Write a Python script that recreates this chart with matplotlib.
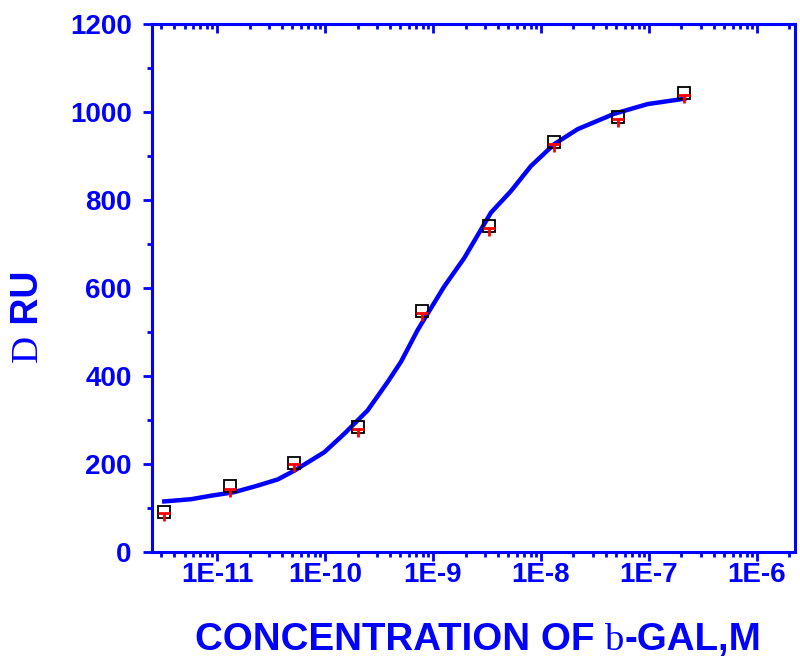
import numpy as np
import matplotlib
matplotlib.use("Agg")
import matplotlib.pyplot as plt
from matplotlib.ticker import MultipleLocator, FixedLocator, NullFormatter

plt.rcParams['font.family'] = ['Liberation Sans', 'DejaVu Sans']
plt.rcParams['font.weight'] = 'bold'

# measured binding response vs. concentration
conc = [3.25e-12, 1.32e-11, 5.2e-11, 2.01e-10, 7.9e-10, 3.28e-9, 1.31e-8, 5.13e-8, 2.09e-7]
resp = [91, 149, 202, 284, 549, 741, 933, 989, 1044]
resp_rep = [88, 143, 201, 280, 544, 737, 928, 984, 1040]

# fitted curve
fit_conc = [3.25e-12, 5.74e-12, 8.79e-12, 1.44e-11, 2.38e-11, 3.65e-11, 5.2e-11,
            9.86e-11, 1.51e-10, 2.48e-10, 3.81e-10, 5.06e-10, 7.21e-10, 1.27e-9,
            1.95e-9, 3.44e-9, 5.27e-9, 8.07e-9, 1.33e-8, 2.19e-8, 4.78e-8,
            9.73e-8, 2.12e-7]
fit_resp = [115, 120, 128, 136, 151, 165, 185, 227, 269, 322, 387, 433, 505,
            604, 669, 772, 821, 878, 928, 962, 997, 1019, 1031]

xticks = [1e-11, 1e-10, 1e-9, 1e-8, 1e-7, 1e-6]
xticklabels = ['1E-11', '1E-10', '1E-9', '1E-8', '1E-7', '1E-6']

blue = '#0000ff'
fig = plt.figure(figsize=(8, 6.62), dpi=100)
ax = fig.add_axes([0.19, 0.1662, 0.80375, 0.7968])

ax.plot(fit_conc, fit_resp, color=blue, lw=3.2, zorder=2)
ax.plot(conc, resp, ls='none', marker='s', ms=9, mfc='none', mec='black', mew=1.3, zorder=3)
ax.plot(conc, resp_rep, ls='none', marker='_', ms=9, mec='red', mew=2, zorder=4)
ax.plot(conc, resp_rep, ls='none', marker=3, ms=6, mec='red', mew=2, zorder=4)

ax.set_xscale('log')
ax.set_xlim(2.5e-12, 2.25e-6)
ax.set_ylim(0, 1200)
ax.xaxis.set_major_locator(FixedLocator(xticks))
ax.set_xticklabels(xticklabels)
ax.xaxis.set_minor_formatter(NullFormatter())
ax.yaxis.set_major_locator(MultipleLocator(200))
ax.yaxis.set_minor_locator(MultipleLocator(100))

for s in ax.spines.values():
    s.set_color(blue)
    s.set_linewidth(2.2)

ax.tick_params(axis='both', which='both', color=blue, labelcolor=blue,
               width=2, direction='out', right=False, top=False)
ax.tick_params(which='major', length=6.5, labelsize=20)
ax.tick_params(which='minor', length=3.5)
ax.tick_params(axis='x', pad=1)
ax.tick_params(axis='y', pad=8)

# inward ticks along the top edge
top = ax.secondary_xaxis('top')
top.set_xscale('log')
top.xaxis.set_major_locator(FixedLocator(xticks))
top.tick_params(which='both', direction='in', color=blue, width=2, labeltop=False)
top.tick_params(which='major', length=6.5)
top.tick_params(which='minor', length=3.5)
top.spines['top'].set_color(blue)
top.spines['top'].set_linewidth(2.2)

# axis titles, with the Greek letters set in a serif face
t1 = fig.text(195 / 800, 1 - 650 / 662, 'CONCENTRATION OF ', fontsize=27.7,
              fontweight='bold', color=blue, va='baseline')
t2 = ax.annotate('b', xy=(1, 0), xycoords=t1, fontsize=27.7, fontweight='normal',
                 family='Liberation Serif', color=blue, va='bottom', ha='left',
                 annotation_clip=False)
ax.annotate('-GAL,M', xy=(1, 0), xycoords=t2, fontsize=27.7, fontweight='bold',
            color=blue, va='bottom', ha='left', annotation_clip=False)

y1 = fig.text(27.5 / 800, 1 - 362 / 662, 'D', fontsize=27, fontweight='normal',
              family='Liberation Serif', color=blue, rotation=90,
              ha='center', va='bottom')
ax.annotate(' RU', xy=(0.5, 1), xycoords=y1, fontsize=27, fontweight='bold',
            color=blue, rotation=90, ha='center', va='bottom', annotation_clip=False)

fig.savefig('out.png', dpi=100)
